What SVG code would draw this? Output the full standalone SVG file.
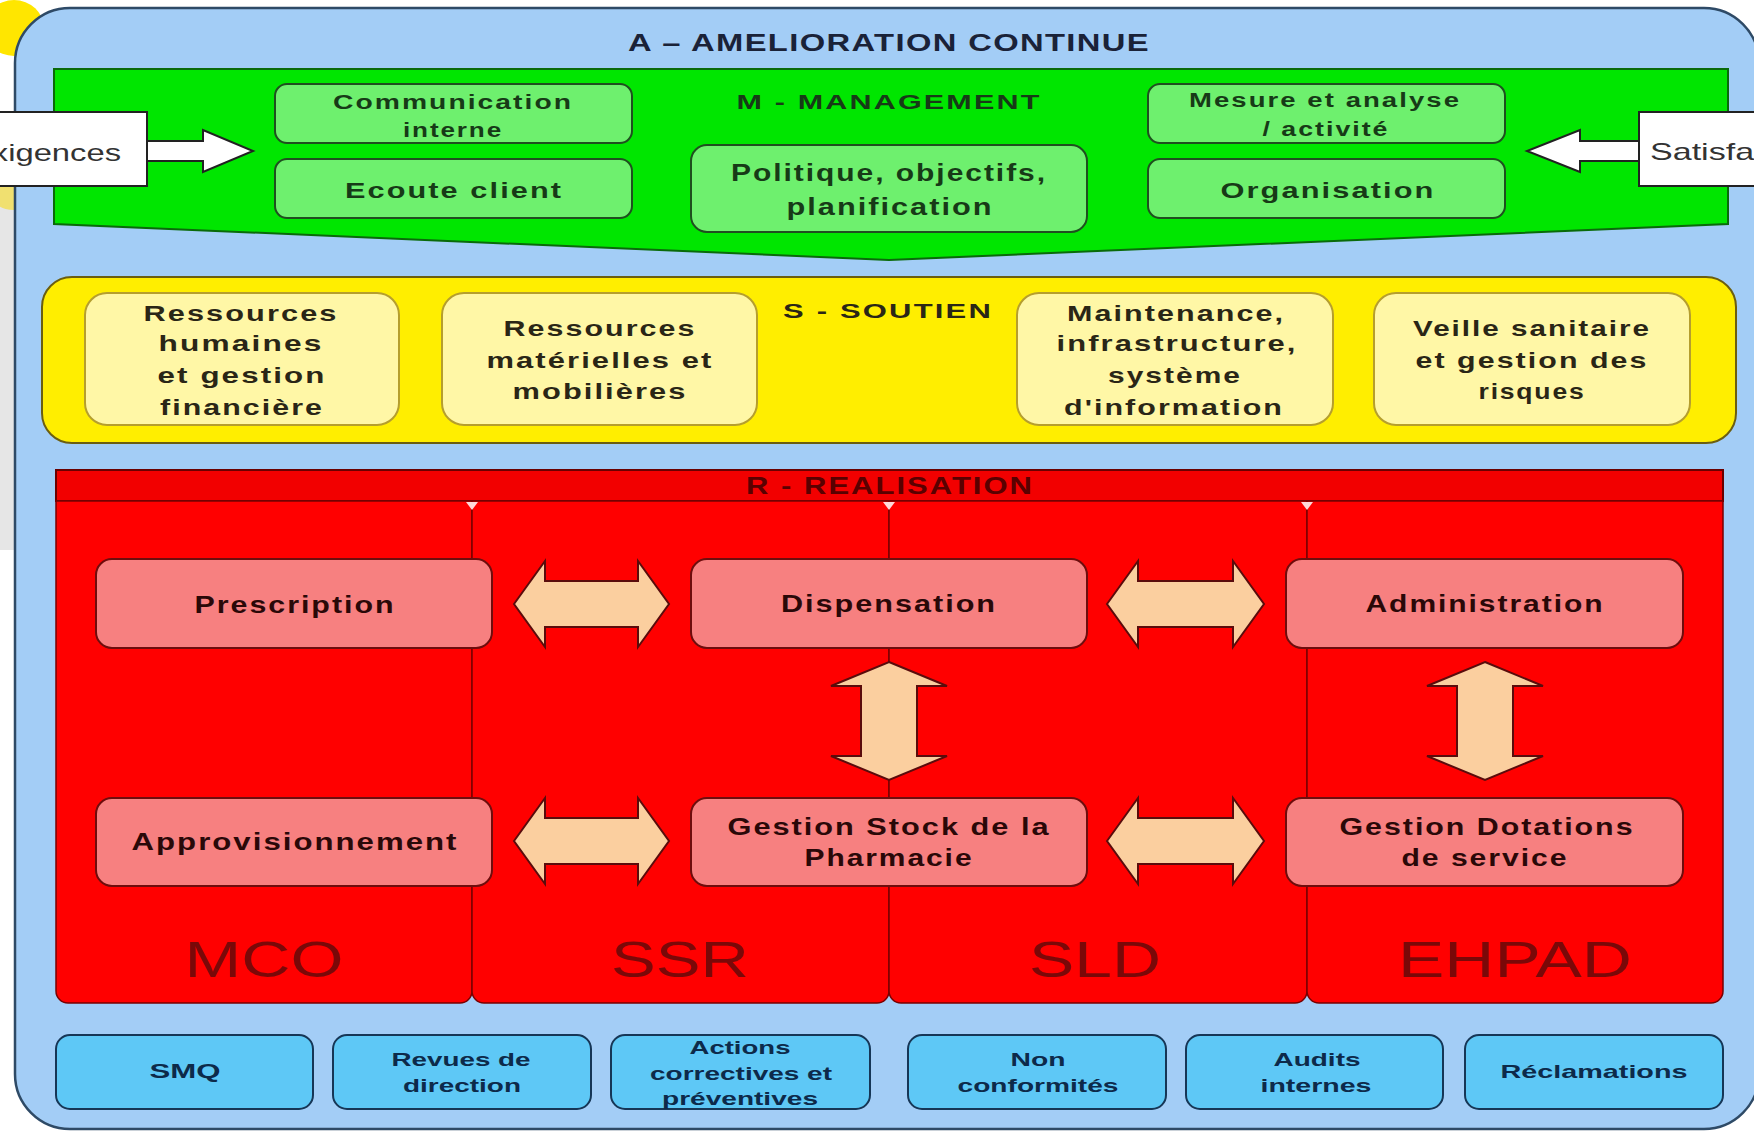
<svg xmlns="http://www.w3.org/2000/svg" width="1754" height="1134" viewBox="0 0 1754 1134">
<defs>
<style>
text{font-family:"Liberation Sans",Arial,sans-serif;font-weight:bold;text-anchor:middle}
.title{font-size:24px;fill:#1a2238;letter-spacing:1px}
.g{font-size:21px;fill:#173a17;letter-spacing:1.5px}
.gb{fill:#6ef06e;stroke:#1f4f1f;stroke-width:2}
.y{font-size:22px;fill:#2a2616;letter-spacing:1.5px}
.yb{fill:#fff7a6;stroke:#b59e2e;stroke-width:2}
.r{font-size:23px;fill:#2a0808;letter-spacing:1.5px}
.rb{fill:#f78080;stroke:#6e0d0d;stroke-width:2}
.col{fill:#ff0000;stroke:#7a0000;stroke-width:1.5}
.lab{font-size:50px;font-weight:normal;fill:#7a0808}
.b{font-size:19px;fill:#0d2a4a}
.bb{fill:#5ec8f6;stroke:#163656;stroke-width:2}
.arr{fill:#fbcf9f;stroke:#5a0c0c;stroke-width:2;stroke-linejoin:miter}
.warr{fill:#ffffff;stroke:#222;stroke-width:2}
.side{font-size:24px;font-weight:normal;fill:#333;text-anchor:start}
.tri{fill:#ffd8d8}
</style>
</defs>
<rect width="1754" height="1134" fill="#ffffff"/>
<ellipse cx="14" cy="28" rx="30" ry="28" fill="#ffe600"/>
<rect x="0" y="190" width="16" height="360" fill="#e6e6e6"/>
<ellipse cx="14" cy="196" rx="22" ry="14" fill="#f0e070"/>

<g id="amelioration">
<rect x="15" y="8" width="1744" height="1121" rx="55" fill="#a3cdf6" stroke="#2e4a66" stroke-width="2.5"/>
<text class="title" x="889" y="51" textLength="522" lengthAdjust="spacingAndGlyphs">A – AMELIORATION CONTINUE</text>
</g>

<g id="management">
<polygon points="54,69 1728,69 1728,224 889,260 54,224" fill="#00e600" stroke="#0a6a0a" stroke-width="2"/>
<text class="g" x="889" y="109" textLength="305" lengthAdjust="spacingAndGlyphs">M - MANAGEMENT</text>
</g>
<g id="communication-interne">
<rect class="gb" x="275" y="84" width="357" height="59" rx="12"/>
<text class="g" x="453" y="109" textLength="240" lengthAdjust="spacingAndGlyphs">Communication</text>
<text class="g" x="453" y="137" textLength="100" lengthAdjust="spacingAndGlyphs">interne</text>
</g>
<g id="ecoute-client">
<rect class="gb" x="275" y="159" width="357" height="59" rx="12"/>
<text class="g" x="454" y="198" textLength="218" lengthAdjust="spacingAndGlyphs" style="font-size:22px">Ecoute client</text>
</g>
<g id="politique">
<rect class="gb" x="691" y="145" width="396" height="87" rx="16"/>
<text class="g" x="889" y="181" textLength="316" lengthAdjust="spacingAndGlyphs" style="font-size:23px">Politique, objectifs,</text>
<text class="g" x="890" y="215" textLength="207" lengthAdjust="spacingAndGlyphs" style="font-size:23px">planification</text>
</g>
<g id="mesure-analyse">
<rect class="gb" x="1148" y="84" width="357" height="59" rx="12"/>
<text class="g" x="1325" y="107" textLength="272" lengthAdjust="spacingAndGlyphs" style="font-size:20px">Mesure et analyse</text>
<text class="g" x="1326" y="136" textLength="127" lengthAdjust="spacingAndGlyphs" style="font-size:20px">/ activité</text>
</g>
<g id="organisation">
<rect class="gb" x="1148" y="159" width="357" height="59" rx="12"/>
<text class="g" x="1328" y="198" textLength="215" lengthAdjust="spacingAndGlyphs" style="font-size:22px">Organisation</text>
</g>

<g id="exigences">
<rect x="-4" y="112" width="151" height="74" fill="#ffffff" stroke="#222" stroke-width="2"/>
<text class="side" x="-30" y="161" textLength="151" lengthAdjust="spacingAndGlyphs">Exigences</text>
</g>
<g id="satisfaction">
<rect x="1639" y="112" width="130" height="74" fill="#ffffff" stroke="#222" stroke-width="2"/>
<text class="side" x="1650" y="160" textLength="176" lengthAdjust="spacingAndGlyphs">Satisfaction</text>
</g>

<g id="soutien">
<rect x="42" y="277" width="1694" height="166" rx="30" fill="#ffee00" stroke="#6b5e10" stroke-width="2"/>
<text class="y" x="888" y="318" textLength="210" lengthAdjust="spacingAndGlyphs" style="font-size:21px">S - SOUTIEN</text>
</g>
<g id="ressources-humaines">
<rect class="yb" x="85" y="293" width="314" height="132" rx="22"/>
<text class="y" x="241" y="321" textLength="195" lengthAdjust="spacingAndGlyphs">Ressources</text>
<text class="y" x="241" y="351" textLength="165" lengthAdjust="spacingAndGlyphs">humaines</text>
<text class="y" x="242" y="383" textLength="169" lengthAdjust="spacingAndGlyphs">et gestion</text>
<text class="y" x="242" y="415" textLength="164" lengthAdjust="spacingAndGlyphs">financière</text>
</g>
<g id="ressources-materielles">
<rect class="yb" x="442" y="293" width="315" height="132" rx="22"/>
<text class="y" x="600" y="336" textLength="193" lengthAdjust="spacingAndGlyphs">Ressources</text>
<text class="y" x="600" y="368" textLength="227" lengthAdjust="spacingAndGlyphs">matérielles et</text>
<text class="y" x="600" y="399" textLength="175" lengthAdjust="spacingAndGlyphs">mobilières</text>
</g>
<g id="maintenance">
<rect class="yb" x="1017" y="293" width="316" height="132" rx="22"/>
<text class="y" x="1176" y="321" textLength="218" lengthAdjust="spacingAndGlyphs">Maintenance,</text>
<text class="y" x="1177" y="351" textLength="241" lengthAdjust="spacingAndGlyphs">infrastructure,</text>
<text class="y" x="1175" y="383" textLength="134" lengthAdjust="spacingAndGlyphs">système</text>
<text class="y" x="1174" y="415" textLength="220" lengthAdjust="spacingAndGlyphs">d'information</text>
</g>
<g id="veille-sanitaire">
<rect class="yb" x="1374" y="293" width="316" height="132" rx="22"/>
<text class="y" x="1532" y="336" textLength="238" lengthAdjust="spacingAndGlyphs">Veille sanitaire</text>
<text class="y" x="1532" y="368" textLength="233" lengthAdjust="spacingAndGlyphs">et gestion des</text>
<text class="y" x="1532" y="399" textLength="107" lengthAdjust="spacingAndGlyphs">risques</text>
</g>

<g id="realisation">
<rect x="56" y="470" width="1667" height="31" fill="#f20000" stroke="#6a0000" stroke-width="2"/>
<text class="r" x="890" y="494" textLength="288" lengthAdjust="spacingAndGlyphs" style="font-size:23px;fill:#5a0000">R - REALISATION</text>
</g>
<g id="mco">
<path class="col" d="M56,501 H472 V991 a12,12 0 0 1 -12,12 H68 a12,12 0 0 1 -12,-12 Z"/>
<text class="lab" x="264" y="977" textLength="159" lengthAdjust="spacingAndGlyphs">MCO</text>
</g>
<g id="ssr">
<path class="col" d="M472,501 H889 V991 a12,12 0 0 1 -12,12 H484 a12,12 0 0 1 -12,-12 Z"/>
<text class="lab" x="680" y="977" textLength="138" lengthAdjust="spacingAndGlyphs">SSR</text>
</g>
<g id="sld">
<path class="col" d="M889,501 H1307 V991 a12,12 0 0 1 -12,12 H901 a12,12 0 0 1 -12,-12 Z"/>
<text class="lab" x="1095" y="977" textLength="132" lengthAdjust="spacingAndGlyphs">SLD</text>
</g>
<g id="ehpad">
<path class="col" d="M1307,501 H1723 V991 a12,12 0 0 1 -12,12 H1319 a12,12 0 0 1 -12,-12 Z"/>
<text class="lab" x="1515" y="977" textLength="234" lengthAdjust="spacingAndGlyphs">EHPAD</text>
</g>
<g id="markers">
<polygon class="tri" points="466,502 478,502 472,510"/>
<polygon class="tri" points="883,502 895,502 889,510"/>
<polygon class="tri" points="1301,502 1313,502 1307,510"/>
</g>

<g id="prescription">
<rect class="rb" x="96" y="559" width="396" height="89" rx="16"/>
<text class="r" x="295" y="613" textLength="201" lengthAdjust="spacingAndGlyphs">Prescription</text>
</g>
<g id="dispensation">
<rect class="rb" x="691" y="559" width="396" height="89" rx="16"/>
<text class="r" x="889" y="612" textLength="216" lengthAdjust="spacingAndGlyphs">Dispensation</text>
</g>
<g id="administration">
<rect class="rb" x="1286" y="559" width="397" height="89" rx="16"/>
<text class="r" x="1485" y="612" textLength="239" lengthAdjust="spacingAndGlyphs">Administration</text>
</g>
<g id="approvisionnement">
<rect class="rb" x="96" y="798" width="396" height="88" rx="16"/>
<text class="r" x="295" y="850" textLength="327" lengthAdjust="spacingAndGlyphs">Approvisionnement</text>
</g>
<g id="gestion-stock">
<rect class="rb" x="691" y="798" width="396" height="88" rx="16"/>
<text class="r" x="889" y="835" textLength="323" lengthAdjust="spacingAndGlyphs">Gestion Stock de la</text>
<text class="r" x="889" y="866" textLength="169" lengthAdjust="spacingAndGlyphs">Pharmacie</text>
</g>
<g id="gestion-dotations">
<rect class="rb" x="1286" y="798" width="397" height="88" rx="16"/>
<text class="r" x="1487" y="835" textLength="295" lengthAdjust="spacingAndGlyphs">Gestion Dotations</text>
<text class="r" x="1485" y="866" textLength="167" lengthAdjust="spacingAndGlyphs">de service</text>
</g>

<g id="connectors">
<polygon class="warr" points="147,141 203,141 203,130 253,151 203,172 203,161 147,161"/>
<polygon class="warr" points="1639,141 1580,141 1580,130 1527,151 1580,172 1580,161 1639,161"/>
<polygon class="arr" points="514,604 545,561 545,581 638,581 638,561 669,604 638,647 638,627 545,627 545,647"/>
<polygon class="arr" points="1107,604 1138,561 1138,581 1233,581 1233,561 1264,604 1233,647 1233,627 1138,627 1138,647"/>
<polygon class="arr" points="514,841 545,798 545,818 638,818 638,798 669,841 638,884 638,864 545,864 545,884"/>
<polygon class="arr" points="1107,841 1138,798 1138,818 1233,818 1233,798 1264,841 1233,884 1233,864 1138,864 1138,884"/>
<polygon class="arr" points="889,662 947,686 917,686 917,756 947,756 889,780 831,756 861,756 861,686 831,686"/>
<polygon class="arr" points="1485,662 1543,686 1513,686 1513,756 1543,756 1485,780 1427,756 1457,756 1457,686 1427,686"/>
</g>

<g id="smq">
<rect class="bb" x="56" y="1035" width="257" height="74" rx="14"/>
<text class="b" x="185" y="1078" textLength="71" lengthAdjust="spacingAndGlyphs" style="font-size:20px">SMQ</text>
</g>
<g id="revues">
<rect class="bb" x="333" y="1035" width="258" height="74" rx="14"/>
<text class="b" x="461" y="1066" textLength="139" lengthAdjust="spacingAndGlyphs">Revues de</text>
<text class="b" x="462" y="1092" textLength="118" lengthAdjust="spacingAndGlyphs">direction</text>
</g>
<g id="actions">
<rect class="bb" x="611" y="1035" width="259" height="74" rx="14"/>
<text class="b" x="740" y="1054" textLength="101" lengthAdjust="spacingAndGlyphs">Actions</text>
<text class="b" x="741" y="1080" textLength="182" lengthAdjust="spacingAndGlyphs">correctives et</text>
<text class="b" x="740" y="1105" textLength="156" lengthAdjust="spacingAndGlyphs">préventives</text>
</g>
<g id="non-conformites">
<rect class="bb" x="908" y="1035" width="258" height="74" rx="14"/>
<text class="b" x="1038" y="1066" textLength="55" lengthAdjust="spacingAndGlyphs">Non</text>
<text class="b" x="1038" y="1092" textLength="161" lengthAdjust="spacingAndGlyphs">conformités</text>
</g>
<g id="audits">
<rect class="bb" x="1186" y="1035" width="257" height="74" rx="14"/>
<text class="b" x="1317" y="1066" textLength="87" lengthAdjust="spacingAndGlyphs">Audits</text>
<text class="b" x="1316" y="1092" textLength="111" lengthAdjust="spacingAndGlyphs">internes</text>
</g>
<g id="reclamations">
<rect class="bb" x="1465" y="1035" width="258" height="74" rx="14"/>
<text class="b" x="1594" y="1078" textLength="187" lengthAdjust="spacingAndGlyphs">Réclamations</text>
</g>
</svg>
